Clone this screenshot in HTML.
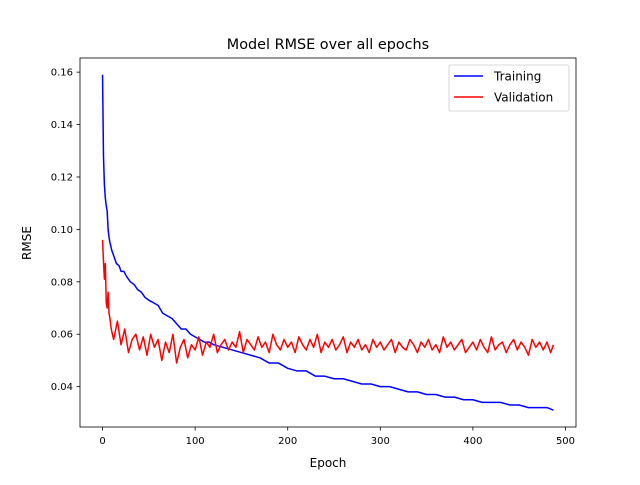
<!DOCTYPE html>
<html><head><meta charset="utf-8"><style>
html,body{margin:0;padding:0;background:#fff;}
svg text{font-family:"DejaVu Sans","Liberation Sans",sans-serif;}
</style></head><body>
<svg id="chart" width="640" height="480" xmlns="http://www.w3.org/2000/svg">
<rect width="640" height="480" fill="#fff"/>
<text x="328" y="49" font-size="14.4" text-anchor="middle">Model RMSE over all epochs</text>
<g id="plot"></g>
<rect x="80" y="58" width="496" height="369" fill="none" stroke="#000" stroke-width="0.8"/>
<text x="328" y="467" font-size="12" text-anchor="middle">Epoch</text>
<text x="31" y="243" font-size="12" text-anchor="middle" transform="rotate(-90 31 243)">RMSE</text>
<g>
<rect x="449" y="65" width="120" height="46" rx="2" fill="#fff" fill-opacity="0.8" stroke="#ccc" stroke-width="0.8"/>
<line x1="454" y1="76" x2="483" y2="76" stroke="#0000ff" stroke-width="1.5"/>
<text x="494" y="80.5" font-size="12">Training</text>
<line x1="454" y1="97" x2="483" y2="97" stroke="#ff0000" stroke-width="1.5"/>
<text x="494" y="101.5" font-size="12">Validation</text>
</g>
</svg>
<script>
const xTicks=[0,100,200,300,400,500];
const yTicks=[0.04,0.06,0.08,0.10,0.12,0.14,0.16];
const yTickLabels=["0.04","0.06","0.08","0.10","0.12","0.14","0.16"];
const trainEpochs=[0,1,2,3,4,5,6,7,8,10,12,15,18,20,23,26,30,34,38,42,46,50,55,60,65,70,75,80,85,90,95,100,105,110,115,120,130,140,150,160,170,180,190,200,210,220,230,240,250,260,270,280,290,300,310,320,330,340,350,360,370,380,390,400,410,420,430,440,450,460,470,480,487];
const trainValues=[0.159,0.128,0.117,0.112,0.109,0.107,0.100,0.097,0.095,0.092,0.090,0.087,0.086,0.084,0.084,0.082,0.080,0.079,0.077,0.076,0.074,0.073,0.072,0.071,0.068,0.067,0.066,0.064,0.062,0.062,0.060,0.059,0.058,0.057,0.057,0.056,0.055,0.054,0.053,0.052,0.051,0.049,0.049,0.047,0.046,0.046,0.044,0.044,0.043,0.043,0.042,0.041,0.041,0.040,0.040,0.039,0.038,0.038,0.037,0.037,0.036,0.036,0.035,0.035,0.034,0.034,0.034,0.033,0.033,0.032,0.032,0.032,0.031];
const valEarlyEpochs=[0,1,2,3,4,5,6,7,8,9,10,12];
const valEarlyValues=[0.096,0.088,0.081,0.087,0.072,0.070,0.076,0.068,0.066,0.063,0.061,0.058];
const valLaterValues=[0.065,0.056,0.062,0.053,0.058,0.060,0.054,0.059,0.052,0.060,0.055,0.058,0.050,0.057,0.053,0.060,0.049,0.055,0.058,0.051,0.056,0.054,0.059,0.052,0.057,0.055,0.060,0.053,0.056,0.058,0.054,0.057,0.055,0.061,0.053,0.058,0.056,0.054,0.059,0.055,0.057,0.053,0.060,0.056,0.054,0.058,0.055,0.057,0.053,0.059,0.056,0.054,0.058,0.055,0.060,0.053,0.057,0.055,0.058,0.054,0.056,0.059,0.053,0.057,0.055,0.058,0.054,0.056,0.053,0.058,0.055,0.057,0.054,0.056,0.058,0.053,0.057,0.055,0.054,0.058,0.056,0.053,0.057,0.055,0.058,0.054,0.056,0.053,0.059,0.055,0.057,0.054,0.056,0.058,0.053,0.055,0.057,0.054,0.058,0.055,0.053,0.059,0.054,0.056,0.057,0.053,0.056,0.058,0.054,0.057,0.055,0.052,0.058,0.055,0.057,0.054,0.057,0.053,0.056];

const L=80,R=576,T=58,B=427;
const allX=trainEpochs.concat(valEarlyEpochs);
let xmin=Math.min(...allX),xmax=487;
const allY=trainValues.concat(valEarlyValues,valLaterValues);
let ymin=Math.min(...allY),ymax=Math.max(...allY);
const xr=xmax-xmin,yr=ymax-ymin;
const X0=xmin-0.05*xr,X1=xmax+0.05*xr,Y0=ymin-0.05*yr,Y1=ymax+0.05*yr;
const sx=v=>L+(v-X0)/(X1-X0)*(R-L);
const sy=v=>B-(v-Y0)/(Y1-Y0)*(B-T);
const NS="http://www.w3.org/2000/svg";
const g=document.getElementById('plot');
function mk(tag,attrs){const e=document.createElementNS(NS,tag);for(const k in attrs)e.setAttribute(k,attrs[k]);return e;}
xTicks.forEach((t,i)=>{
  const x=sx(t);
  const ln=mk('line',{x1:x,y1:B,x2:x,y2:B+3.5,stroke:'#000','stroke-width':0.8});
  
  
  g.appendChild(ln);
  const tx=mk('text',{x:x,y:B+17,'font-size':10,'text-anchor':'middle'});
  tx.textContent=String(t);
  
  
  g.appendChild(tx);
});
yTicks.forEach((t,i)=>{
  const y=sy(t);
  const ln=mk('line',{x1:L-3.5,y1:y,x2:L,y2:y,stroke:'#000','stroke-width':0.8});
  
  
  g.appendChild(ln);
  const tx=mk('text',{x:L-7,y:y+3.5,'font-size':10,'text-anchor':'end'});
  tx.textContent=yTickLabels[i];
  
  
  g.appendChild(tx);
});
const valEpochs=valEarlyEpochs.slice();
const valValues=valEarlyValues.concat(valLaterValues);
valLaterValues.forEach((v,i)=>{valEpochs.push(Math.min(16+4*i,487));});
function path(xs,ys){return xs.map((x,i)=>(i?'L':'M')+sx(x).toFixed(2)+','+sy(ys[i]).toFixed(2)).join('');}
const pt=mk('path',{d:path(trainEpochs,trainValues),fill:'none',stroke:'#0000ff','stroke-width':1.5,'stroke-linejoin':'round'});


g.appendChild(pt);
const pv=mk('path',{d:path(valEpochs,valValues),fill:'none',stroke:'#ff0000','stroke-width':1.5,'stroke-linejoin':'round'});


g.appendChild(pv);
</script>
</body></html>
